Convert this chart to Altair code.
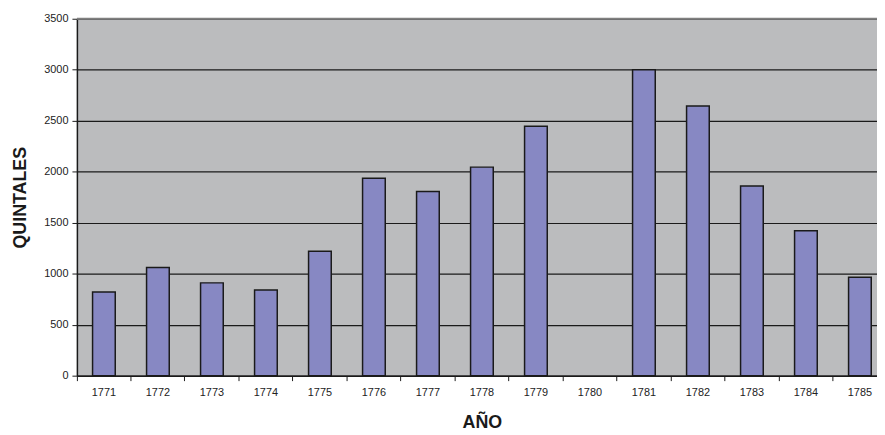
import altair as alt
import pandas as pd

years = ["1771", "1772", "1773", "1774", "1775", "1776", "1777", "1778",
         "1779", "1780", "1781", "1782", "1783", "1784", "1785"]
quintales = [820, 1060, 910, 840, 1220, 1935, 1805, 2045,
             2445, 0, 3000, 2645, 1860, 1420, 965]
y_ticks = [0, 500, 1000, 1500, 2000, 2500, 3000, 3500]

df = pd.DataFrame({"year": years, "q": quintales})

FONT = "Liberation Sans"

xscale = alt.Scale(domain=years, range=[0, 817], paddingInner=0, paddingOuter=0)
yscale = alt.Scale(domain=[0, 3500], nice=False)

bars = alt.Chart(df).transform_filter(
    alt.datum.q > 0
).mark_bar(
    width=alt.RelativeBandSize(0.42),
    color="#8788C3",
    stroke="#1a1a1a",
    strokeWidth=1.5,
).encode(
    x=alt.X("year:N", scale=xscale, sort=years,
            axis=alt.Axis(title="AÑO", labelAngle=0, bandPosition=0,
                          tickSize=5, labelPadding=6,
                          labelBaseline="top",
                          tickColor="#1a1a1a", domainColor="#1a1a1a",
                          domainWidth=1.5, labelFontSize=11, labelFont=FONT,
                          labelColor="#222222", titleFont=FONT,
                          titleFontSize=18, titleFontWeight="bold",
                          titleColor="#1a1a1a", titleX=408.5, titleY=52.7,
                          titleBaseline="alphabetic", titleAlign="center",
                          grid=False)),
    y=alt.Y("q:Q", scale=yscale,
            axis=alt.Axis(title="QUINTALES", values=y_ticks, format="d",
                          grid=True,
                          gridColor="#1a1a1a", gridWidth=1.2, tickSize=5,
                          tickColor="#1a1a1a", domainColor="#1a1a1a",
                          domainWidth=1.5, labelPadding=4, labelFontSize=11,
                          labelFont=FONT, labelColor="#222222",
                          titleFont=FONT, titleFontSize=18,
                          titleFontWeight="bold", titleColor="#1a1a1a",
                          titleAngle=270, titleX=-56.5, titleY=180,
                          titleBaseline="middle", titleAlign="center")),
)

top_border = alt.Chart(pd.DataFrame({"v": [3500]})).mark_rule(
    color="#808080", strokeWidth=2
).encode(y=alt.Y("v:Q", scale=yscale))

chart = alt.layer(bars, top_border).properties(
    width=807,
    height=360,
    autosize=alt.AutoSizeParams(type="none"),
    padding={"left": 69.5, "top": 9, "right": 0, "bottom": 58},
    background="white",
).configure_view(
    fill="#BBBCBE",
    stroke=None,
)

chart.save("out.html", embed_options={"renderer": "svg", "actions": False})
